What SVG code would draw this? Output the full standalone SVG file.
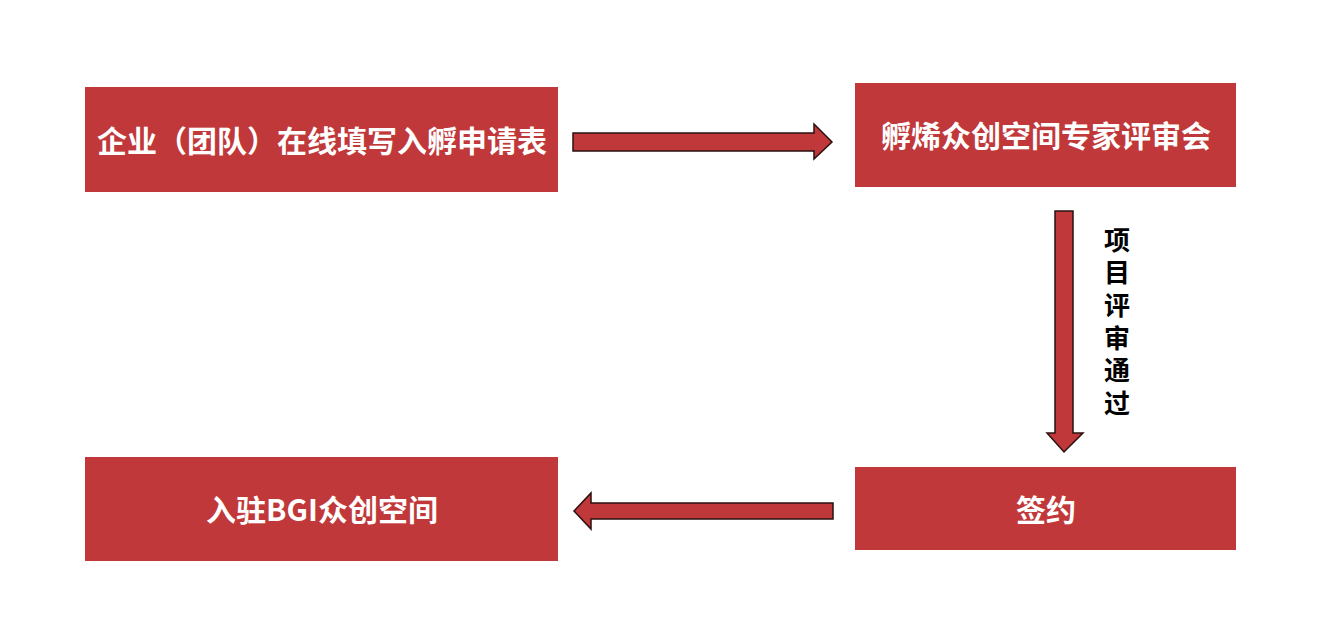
<svg xmlns="http://www.w3.org/2000/svg" width="1340" height="631" viewBox="0 0 1340 631">
<style>
.box{fill:#C1383A;}
.lbl{font-family:"Noto Sans CJK SC","Liberation Sans",sans-serif;font-weight:bold;fill:#fff;font-size:30px;text-anchor:middle;dominant-baseline:central;}
.arr{fill:#C1383A;stroke:#2a1010;stroke-width:1.5;stroke-linejoin:miter;}
.side{font-family:"Noto Sans CJK SC","Liberation Sans",sans-serif;font-weight:bold;fill:#000;font-size:26px;writing-mode:vertical-rl;letter-spacing:6.6px;}
</style>
<rect width="1340" height="631" fill="#fff"/>
<g id="node-apply">
<rect class="box" x="85" y="87" width="473" height="105"/>
<text class="lbl" x="322" y="139">企业（团队）在线填写入孵申请表</text>
</g>
<g id="node-review">
<rect class="box" x="855" y="83" width="381" height="104"/>
<text class="lbl" x="1046" y="134">孵烯众创空间专家评审会</text>
</g>
<g id="node-sign">
<rect class="box" x="855" y="467" width="381" height="83"/>
<text class="lbl" x="1046" y="508">签约</text>
</g>
<g id="node-enter">
<rect class="box" x="85" y="457" width="473" height="104"/>
<text class="lbl" x="322" y="508">入驻BGI众创空间</text>
</g>
<g id="connectors">
<polygon class="arr" points="573,133 814,133 814,124 832,142 814,159 814,151 573,151"/>
<polygon class="arr" points="1055,211 1073,211 1073,433 1083,433 1064,452 1047,433 1055,433"/>
<polygon class="arr" points="833,503 591,503 591,493 574,511 591,529 591,519 833,519"/>
<text id="label-pass" class="side" x="1117" y="227">项目评审通过</text>
</g>
</svg>
